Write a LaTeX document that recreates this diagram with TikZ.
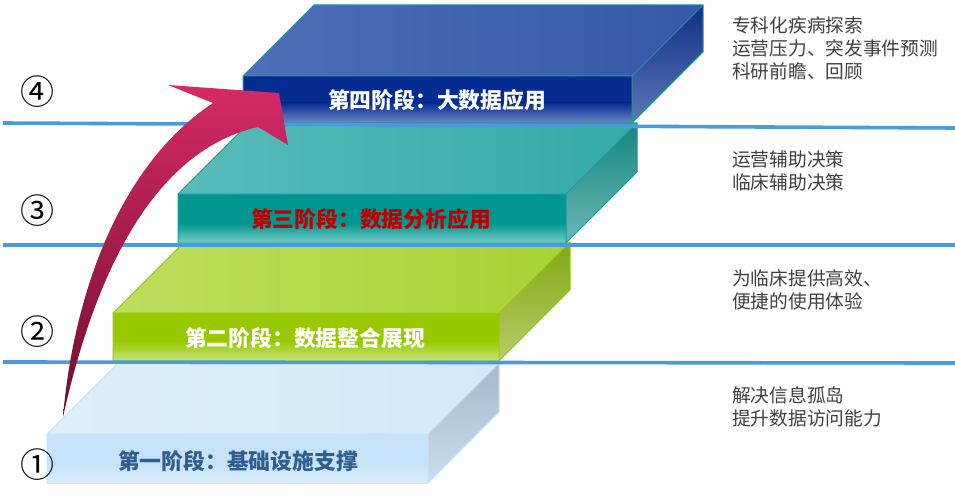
\documentclass[tikz,border=0pt]{standalone}
\usepackage{fontspec}
\newfontfamily\cjk{Noto Sans CJK SC}
\definecolor{sepblue}{HTML}{4A9BDC}
\definecolor{desctext}{HTML}{404040}
% stage 4 (blue)
\definecolor{sdT}{HTML}{3459A8}
\definecolor{sdTL}{HTML}{4E6EB6}
\definecolor{sdFA}{HTML}{062C92}
\definecolor{sdFB}{HTML}{7088C6}
\definecolor{sdRA}{HTML}{102E86}
\definecolor{sdRB}{HTML}{5E78B8}
\definecolor{sdE}{HTML}{1A9A96}
% stage 3 (teal)
\definecolor{scT}{HTML}{34AAA7}
\definecolor{scTL}{HTML}{58BCB9}
\definecolor{scFA}{HTML}{00968F}
\definecolor{scFB}{HTML}{78CCC8}
\definecolor{scRA}{HTML}{168581}
\definecolor{scRB}{HTML}{6AB8B5}
\definecolor{scE}{HTML}{1A9E9A}
% stage 2 (green)
\definecolor{sbT}{HTML}{AAD333}
\definecolor{sbTL}{HTML}{BCDD5E}
\definecolor{sbFA}{HTML}{98C800}
\definecolor{sbFB}{HTML}{C6E480}
\definecolor{sbRA}{HTML}{82A810}
\definecolor{sbRB}{HTML}{B4CE68}
\definecolor{sbE}{HTML}{99CC00}
% stage 1 (light blue)
\definecolor{saT}{HTML}{D3E9F9}
\definecolor{saTL}{HTML}{DDEEFA}
\definecolor{saFA}{HTML}{C5E2F8}
\definecolor{saFB}{HTML}{DCEEFB}
\definecolor{saRA}{HTML}{A3BACD}
\definecolor{saRB}{HTML}{CADDEC}
\definecolor{saE}{HTML}{C6E3F8}
% arrow
\definecolor{arrTop}{HTML}{D52A66}
\definecolor{arrMid}{HTML}{CA2662}
\definecolor{arrBot}{HTML}{6E0E30}

\newcommand{\stageblock}[5]{%
  \shade[left color=#5TL, middle color=#5T, right color=#5T]
    (#1,#2) -- (#1+71,#2-71) -- (#3+71,#2-71) -- (#3,#2) -- cycle;
  \shade[top color=#5RA, bottom color=#5RB]
    (#3,#2) -- (#3+71,#2-71) -- (#3+71,#4-71) -- (#3,#4) -- cycle;
  \fill[#5FA] (#1,#2) rectangle (#3,#4);
  \shade[top color=#5FA, bottom color=#5FB] (#1,#4-20) rectangle (#3,#4);
  \draw[#5E, line width=1pt, line join=round]
    (#1,#2) -- (#1+71,#2-71) -- (#3+71,#2-71) -- (#3+71,#4-71) -- (#3,#4) -- (#1,#4) -- cycle;
  \draw[#5E, line width=1pt] (#1,#2) -- (#3,#2) -- (#3+71,#2-71) (#3,#2) -- (#3,#4);
}

\tikzset{
  sepline/.style={sepblue, line width=3.6pt},
  stagelabel/.style={font=\cjk\bfseries\fontsize{21.8}{22}\selectfont, inner sep=0pt},
  desc/.style={font=\cjk\fontsize{18.7}{23}\selectfont, text=desctext, align=left, anchor=west, inner sep=0pt},
  circnum/.style={font=\cjk\fontsize{34}{34}\selectfont, text=black, inner sep=0pt},
}

\begin{document}
\begin{tikzpicture}[x=1pt, y=-1pt]
\useasboundingbox (0,0) rectangle (955,500);
\fill[white] (0,0) rectangle (955,500);

% blocks
\stageblock{47}{434}{428}{483}{sa}
\stageblock{113}{313}{499}{361}{sb}
\stageblock{178}{194}{566}{243}{sc}
\stageblock{243}{76}{632}{123}{sd}

% separator lines
\coordinate (l1a) at (3,123);   \coordinate (l1b) at (955,128);
\coordinate (l2a) at (3,245);   \coordinate (l2b) at (955,245);
\coordinate (l3a) at (3,362);   \coordinate (l3b) at (955,363);
\draw[sepline] (l1a) -- (l1b);
\draw[sepline] (l2a) -- (l2b);
\draw[sepline] (l3a) -- (l3b);

% curved arrow
\shade[top color=arrTop, middle color=arrMid, bottom color=arrBot]
  (63,417) .. controls (72,310) and (112,170) .. (213,103)
  -- (168,85) -- (279,93) -- (288,145) -- (258,127)
  .. controls (165,148) and (100,250) .. (63,417) -- cycle;

% stage labels
\node[stagelabel, text=white] (s4) at (437,100) {第四阶段：大数据应用};
\node[stagelabel, text={rgb,255:red,192;green,0;blue,0}] (s3) at (371,219) {第三阶段：数据分析应用};
\node[stagelabel, text=white] (s2) at (305,338) {第二阶段：数据整合展现};
\node[stagelabel, text={rgb,255:red,47;green,95;blue,143}] (s1) at (238,461) {第一阶段：基础设施支撑};

% circled numbers
\node[circnum] (n4) at (37,92) {④};
\node[circnum] (n3) at (37,211) {③};
\node[circnum] (n2) at (37,332) {②};
\node[circnum] (n1) at (37,465) {①};

% descriptions
\node[desc] (d4) at (732,48) {专科化疾病探索\\运营压力、突发事件预测\\科研前瞻、回顾};
\node[desc] (d3) at (732,171) {运营辅助决策\\临床辅助决策};
\node[desc] (d2) at (732,289.5) {为临床提供高效、\\便捷的使用体验};
\node[desc] (d1) at (732,407) {解决信息孤岛\\提升数据访问能力};
\end{tikzpicture}
\end{document}
